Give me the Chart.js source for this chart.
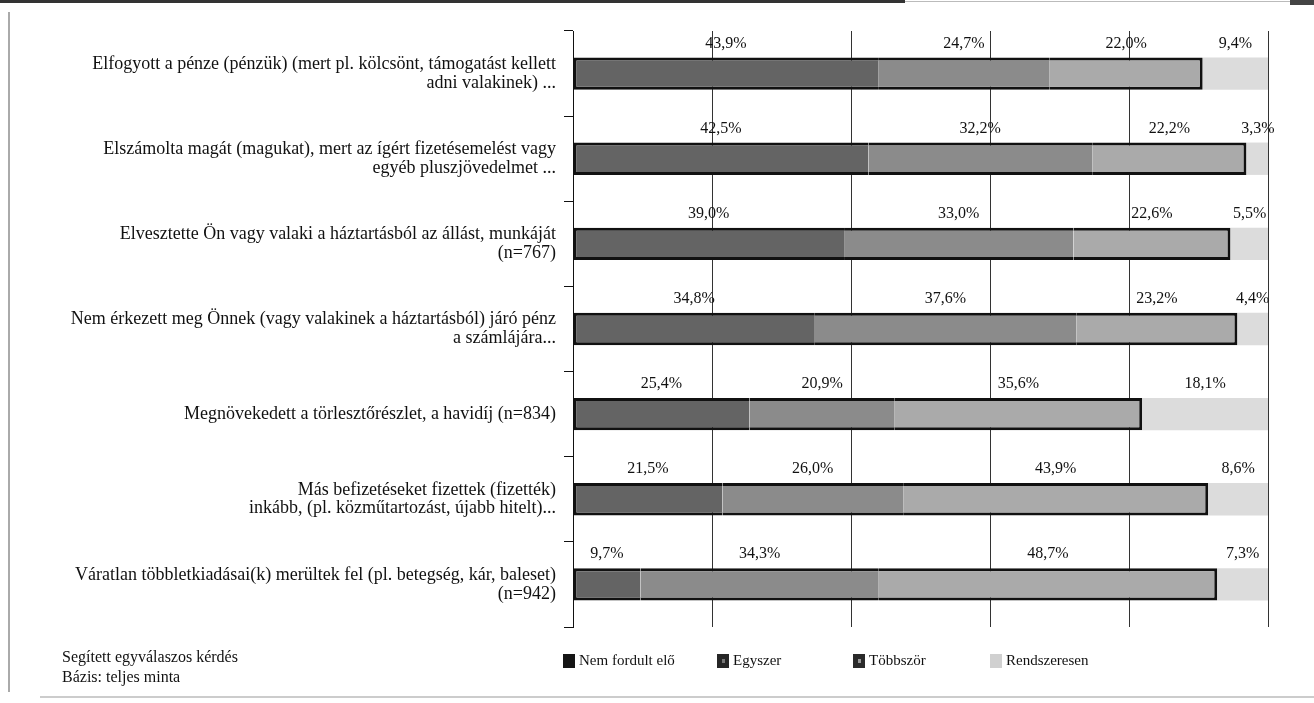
<!DOCTYPE html>
<html>
<head>
<meta charset="utf-8">
<script src="https://cdn.jsdelivr.net/npm/chart.js@4/dist/chart.umd.min.js"></script>
<style>
  body { margin: 0; background: #fff; }
  #wrap { position: relative; width: 1314px; height: 703px; }
  .frame-left { position: absolute; left: 8px; top: 12px; width: 2px; height: 680px; background: #aaa; }
  .frame-top { position: absolute; left: 0; top: 0; width: 905px; height: 3px; background: #333; }
  .frame-top2 { position: absolute; left: 905px; top: 1px; width: 385px; height: 1px; background: #bbb; }
  .frame-corner { position: absolute; left: 1290px; top: 0; width: 24px; height: 5px; background: #444; }
  .frame-bottom { position: absolute; left: 40px; top: 696px; width: 1274px; height: 2px; background: #ccc; }
</style>
</head>
<body>
<div id="wrap">
  <div class="frame-left"></div>
  <div class="frame-top"></div>
  <div class="frame-top2"></div>
  <div class="frame-corner"></div>
  <div class="frame-bottom"></div>
  <canvas id="myChart"></canvas>
</div>
<script>
// Categories (one array of lines per bar)
const categories = [
    ['Elfogyott a pénze (pénzük) (mert pl. kölcsönt, támogatást kellett', 'adni valakinek) ...'],
    ['Elszámolta magát (magukat), mert az ígért fizetésemelést vagy', 'egyéb pluszjövedelmet ...'],
    ['Elvesztette Ön vagy valaki a háztartásból az állást, munkáját', '(n=767)'],
    ['Nem érkezett meg Önnek (vagy valakinek a háztartásból) járó pénz', 'a számlájára...'],
    ['Megnövekedett a törlesztőrészlet, a havidíj (n=834)'],
    ['Más befizetéseket fizettek (fizették)', 'inkább, (pl. közműtartozást, újabb hitelt)...'],
    ['Váratlan többletkiadásai(k) merültek fel (pl. betegség, kár, baleset)', '(n=942)']
];

// Series values (%)
const nemFordultElo = [43.9, 42.5, 39.0, 34.8, 25.4, 21.5, 9.7];
const egyszer = [24.7, 32.2, 33.0, 37.6, 20.9, 26.0, 34.3];
const tobbszor = [22.0, 22.2, 22.6, 23.2, 35.6, 43.9, 48.7];
const rendszeresen = [9.4, 3.3, 5.5, 4.4, 18.1, 8.6, 7.3];

const seriesNames = ['Nem fordult elő', 'Egyszer', 'Többször', 'Rendszeresen'];
const notes = ['Segített egyválaszos kérdés', 'Bázis: teljes minta'];

const serif = '"Liberation Serif", "DejaVu Serif", serif';

// Percent labels above each segment
const valueLabels = {
    id: 'valueLabels',
    afterDatasetsDraw(chart) {
        const ctx = chart.ctx;
        ctx.save();
        ctx.font = '16px ' + serif;
        ctx.fillStyle = '#111';
        ctx.textAlign = 'center';
        ctx.textBaseline = 'middle';
        chart.data.datasets.forEach((ds, i) => {
            chart.getDatasetMeta(i).data.forEach((bar, j) => {
                const x = (bar.x + bar.base) / 2;
                const y = bar.y - bar.height / 2 - 14;
                ctx.fillText(ds.data[j].toFixed(1).replace('.', ',') + '%', x, y);
            });
        });
        ctx.restore();
    }
};

// Legend and footnotes at the bottom
const footer = {
    id: 'footer',
    afterDraw(chart) {
        const ctx = chart.ctx;
        ctx.save();
        ctx.fillStyle = '#111';
        ctx.textBaseline = 'middle';
        ctx.textAlign = 'left';
        ctx.font = '16px ' + serif;
        ctx.fillText(notes[0], 62, 658);
        ctx.fillText(notes[1], 62, 678);

        ctx.font = '15px ' + serif;
        const xs = [563, 717, 853, 990];
        const boxColors = ['#151515', '#262626', '#2a2a2a', '#d0d0d0'];
        const innerColors = [null, '#777', '#999', null];
        seriesNames.forEach((name, i) => {
            ctx.fillStyle = boxColors[i];
            ctx.fillRect(xs[i], 654, 12, 14);
            if (innerColors[i]) {
                ctx.fillStyle = innerColors[i];
                ctx.fillRect(xs[i] + 5, 659, 3, 4);
            }
            ctx.fillStyle = '#111';
            ctx.fillText(name, xs[i] + 16, 661);
        });
        ctx.restore();
    }
};

const ctx = document.getElementById('myChart');
const myChart = new Chart(ctx, {
    type: 'bar',
    data: {
        labels: categories,
        datasets: [
            {
                label: seriesNames[0],
                data: nemFordultElo,
                backgroundColor: '#646464',
                borderColor: '#111',
                borderWidth: {top: 3, bottom: 3, left: 3, right: 0}
            },
            {
                label: seriesNames[1],
                data: egyszer,
                backgroundColor: '#8b8b8b',
                borderColor: '#111',
                borderWidth: {top: 3, bottom: 3, left: 0, right: 0}
            },
            {
                label: seriesNames[2],
                data: tobbszor,
                backgroundColor: '#aaaaaa',
                borderColor: '#111',
                borderWidth: {top: 3, bottom: 3, left: 0, right: 3}
            },
            {
                label: seriesNames[3],
                data: rendszeresen,
                backgroundColor: '#dcdcdc',
                borderWidth: 0
            }
        ]
    },
    options: {
        indexAxis: 'y',
        responsive: true,
        maintainAspectRatio: false,
        animation: false,
        datasets: {
            bar: {
                categoryPercentage: 1,
                barPercentage: 0.38,
                borderSkipped: false
            }
        },
        layout: {
            padding: {left: 0, right: 46, top: 31, bottom: 76}
        },
        scales: {
            x: {
                stacked: true,
                min: 0,
                max: 100,
                ticks: {stepSize: 20, display: false},
                grid: {color: '#333', lineWidth: 1, drawTicks: false},
                border: {display: false}
            },
            y: {
                stacked: true,
                afterFit: (scale) => { scale.width = 573; },
                ticks: {
                    color: '#111',
                    padding: 8,
                    font: {family: serif, size: 18, lineHeight: 1.05}
                },
                grid: {
                    offset: true,
                    drawOnChartArea: false,
                    drawTicks: true,
                    tickLength: 9,
                    color: '#111'
                },
                border: {display: true, color: '#111', width: 1}
            }
        },
        plugins: {
            legend: {display: false},
            tooltip: {enabled: false}
        }
    },
    plugins: [valueLabels, footer]
});
</script>
</body>
</html>
